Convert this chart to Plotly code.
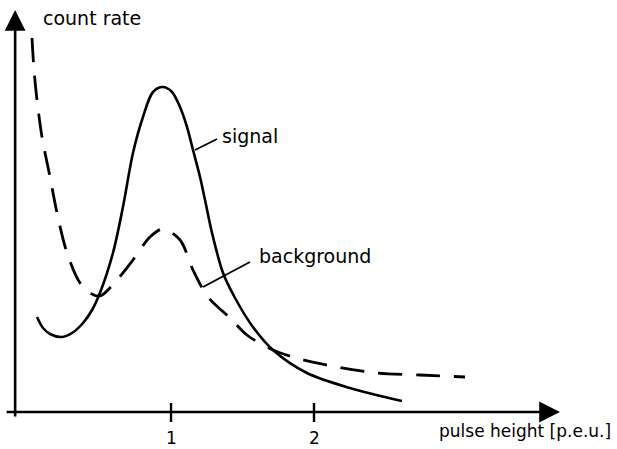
import plotly.graph_objects as go

# ---- data (x in p.e.u., y in arbitrary count-rate units) ----
signal_x = [0.063, 0.105, 0.154, 0.238, 0.308, 0.385, 0.448, 0.503, 0.594, 0.664, 0.734,
            0.804, 0.874, 0.944, 1.007, 1.063, 1.112, 1.154, 1.203, 1.238, 1.287, 1.364,
            1.448, 1.573, 1.713, 1.951, 2.252, 2.615]
signal_y = [0.95, 0.84, 0.78, 0.75, 0.79, 0.89, 1.02, 1.19, 1.59, 2.05, 2.59,
            2.95, 3.20, 3.25, 3.20, 3.05, 2.85, 2.62, 2.35, 2.12, 1.79, 1.39,
            1.14, 0.85, 0.62, 0.39, 0.24, 0.11]

background_x = [0.028, 0.042, 0.063, 0.098, 0.154, 0.203, 0.273, 0.364, 0.434, 0.503,
                0.622, 0.734, 0.853, 0.944, 1.063, 1.154, 1.259, 1.413, 1.531, 1.713,
                1.902, 2.126, 2.441, 2.741, 3.056]
background_y = [3.74, 3.42, 3.12, 2.75, 2.35, 1.99, 1.59, 1.29, 1.19, 1.16,
                1.32, 1.52, 1.75, 1.83, 1.72, 1.42, 1.15, 0.94, 0.77, 0.62,
                0.53, 0.46, 0.39, 0.37, 0.35]

tick_values = [1, 2]
tick_labels = ["1", "2"]

# series labels: (text, text x, text y, leader start x, y, leader end x, y)
series_labels = [
    ("signal", 1.34, 2.76, 1.168, 2.62, 1.322, 2.73),
    ("background", 1.60, 1.56, 1.224, 1.25, 1.552, 1.50),
]

FONT = "DejaVu Sans"
INK = "black"

fig = go.Figure()
fig.add_trace(go.Scatter(x=signal_x, y=signal_y, mode="lines",
                         line=dict(color=INK, width=2.6, shape="spline", smoothing=0.9),
                         name="signal", showlegend=False, hoverinfo="skip"))
fig.add_trace(go.Scatter(x=background_x, y=background_y, mode="lines",
                         line=dict(color=INK, width=2.8, shape="spline", smoothing=0.9,
                                   dash="24px,14px"),
                         name="background", showlegend=False, hoverinfo="skip"))

# axes with arrowheads
fig.add_annotation(x=3.72, y=0, ax=-0.16, ay=0, xref="x", yref="y", axref="x", ayref="y",
                   text="", showarrow=True, arrowhead=2, arrowsize=1.6, arrowwidth=2.6,
                   arrowcolor=INK)
fig.add_annotation(x=-0.09, y=4.02, ax=-0.09, ay=-0.06, xref="x", yref="y", axref="x", ayref="y",
                   text="", showarrow=True, arrowhead=2, arrowsize=1.6, arrowwidth=2.6,
                   arrowcolor=INK)

# tick marks and tick labels
for tv, tl in zip(tick_values, tick_labels):
    fig.add_shape(type="line", x0=tv, x1=tv, y0=-0.10, y1=0.09, xref="x", yref="y",
                  line=dict(color=INK, width=2.4))
    fig.add_annotation(x=tv, y=-0.26, text=tl, showarrow=False, xref="x", yref="y",
                       font=dict(family=FONT, size=17, color=INK))

# axis titles
fig.add_annotation(x=0.09, y=3.94, text="count rate", showarrow=False, xanchor="left",
                   xref="x", yref="y", font=dict(family=FONT, size=19, color=INK))
fig.add_annotation(x=4.09, y=-0.19, text="pulse height [p.e.u.]", showarrow=False,
                   xanchor="right", xref="x", yref="y",
                   font=dict(family=FONT, size=17, color=INK))

# series labels with leader lines
for txt, tx, ty, lx0, ly0, lx1, ly1 in series_labels:
    fig.add_annotation(x=tx, y=ty, text=txt, showarrow=False, xanchor="left",
                       xref="x", yref="y", font=dict(family=FONT, size=19, color=INK))
    fig.add_shape(type="line", x0=lx0, y0=ly0, x1=lx1, y1=ly1, xref="x", yref="y",
                  line=dict(color=INK, width=1.8))

fig.update_layout(
    width=617, height=449,
    margin=dict(l=0, r=0, t=0, b=0),
    paper_bgcolor="white", plot_bgcolor="white",
    xaxis=dict(range=[-28 / 143, 589 / 143], visible=False, fixedrange=True),
    yaxis=dict(range=[-0.37, 4.12], visible=False, fixedrange=True),
    showlegend=False,
)

fig.write_html("out.html", config={"displayModeBar": False},
               post_script="document.body.style.margin='0';document.body.style.overflow='hidden';")
